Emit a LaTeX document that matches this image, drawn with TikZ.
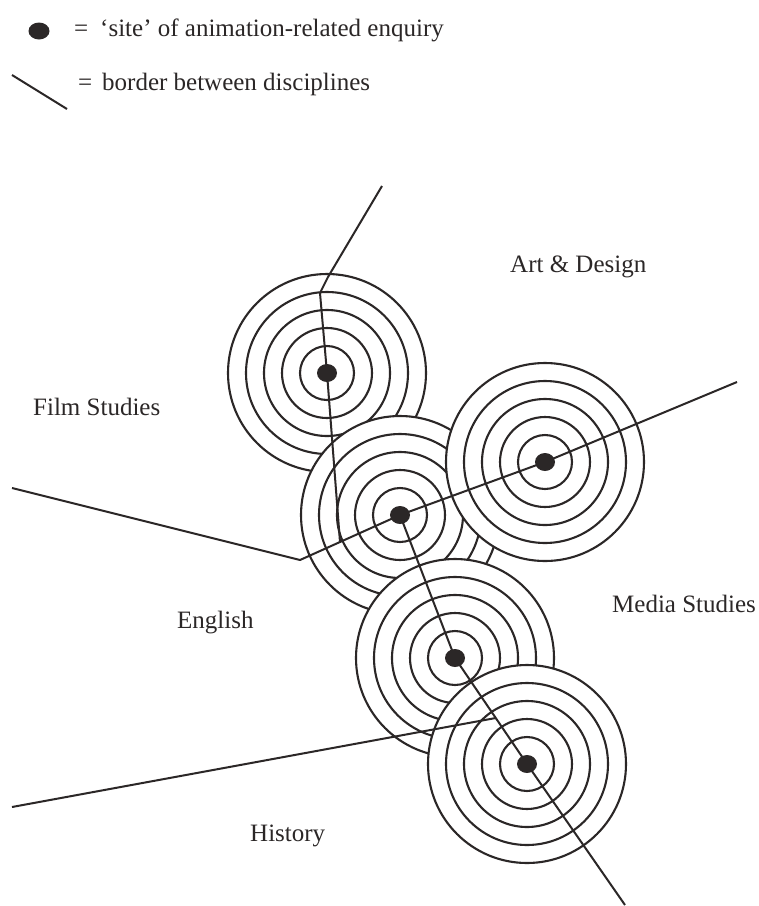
\documentclass[tikz,border=0pt]{standalone}
\usepackage{fontspec}
\setmainfont{Liberation Serif}
\usetikzlibrary{calc}
\definecolor{ink}{HTML}{2B2727}
\begin{document}
\begin{tikzpicture}[x=1pt,y=-1pt,
  ring/.style={draw=ink,line width=2.1pt},
  border/.style={draw=ink,line width=2pt,line join=round},
  sitedot/.style={fill=ink},
  lbl/.style={font=\fontsize{25}{30}\selectfont,text=ink,inner sep=0pt,anchor=base west}]
\useasboundingbox[fill=white] (0,0) rectangle (759,906);
% site centres
\coordinate (T) at (327,373);
\coordinate (M) at (400,515);
\coordinate (R) at (545,462);
\coordinate (F) at (455,658);
\coordinate (H) at (527,764);
% rings, stacked from bottom to top
\foreach \c in {T,M,R,F,H}{
  \fill[white] (\c) circle[radius=99pt];
  \foreach \r in {27,45,63,81,99}
    \draw[ring] (\c) circle[radius=\r pt];
}
% borders between disciplines
\coordinate (a0) at (382,186);
\coordinate (a1) at (328,277);
\coordinate (a2) at (320,293);
\coordinate (b0) at (12,488);
\coordinate (b1) at (300,560);
\coordinate (b3) at (737,382);
\coordinate (j1) at ($(b1)!0.4!(M)$);
\coordinate (c3) at (625,905);
\coordinate (d0) at (12,807);
\coordinate (j2) at ($(F)!0.566!(H)$);
\draw[border] (a0) -- (a1) -- (a2) -- (T) -- (j1);
\draw[border] (b0) -- (b1) -- (M) -- (R) -- (b3);
\draw[border] (M) -- (F) -- (H) -- (c3);
\draw[border] (d0) -- (j2);
% site dots
\foreach \c in {T,M,R,F,H}
  \fill[sitedot] (\c) ellipse[x radius=10pt,y radius=9pt];
% legend
\coordinate (k0) at (39,31);
\fill[sitedot] (k0) ellipse[x radius=10.5pt,y radius=8.5pt];
\node[lbl] (eq1) at (74,36) {=};
\node[lbl] (leg1) at (100,36) {‘site’ of animation-related enquiry};
\coordinate (k1) at (12,75);
\coordinate (k2) at (67,109);
\draw[border] (k1) -- (k2);
\node[lbl] (eq2) at (78,90) {=};
\node[lbl] (leg2) at (102,90) {border between disciplines};
% discipline labels
\node[lbl] (art) at (510,272) {Art \& Design};
\node[lbl] (film) at (33,415) {Film Studies};
\node[lbl] (eng) at (177,628) {English};
\node[lbl] (media) at (612,612) {Media Studies};
\node[lbl] (hist) at (250,841) {History};
\end{tikzpicture}
\end{document}
